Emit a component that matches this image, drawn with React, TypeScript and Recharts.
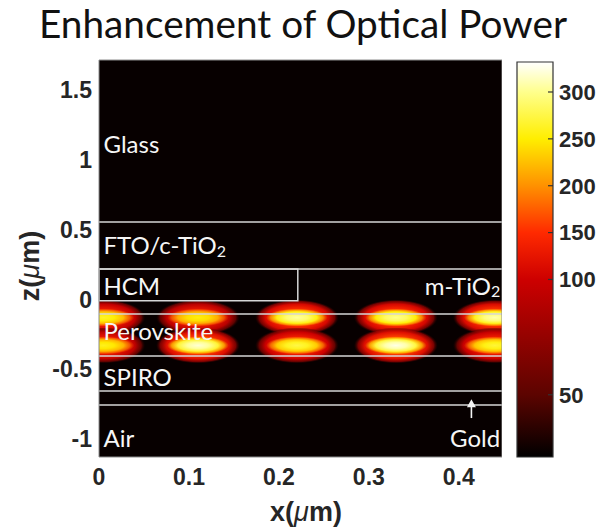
import React from 'react';
import {
  ComposedChart, BarChart, Bar, Scatter, XAxis, YAxis,
  ReferenceLine, ReferenceArea, ReferenceDot, Label,
} from 'recharts';

// axis ticks
const xTicks = [0, 0.1, 0.2, 0.3, 0.4];
const zTicks = [-1, -0.5, 0, 0.5, 1, 1.5];
const cbarTicks = [50, 100, 150, 200, 250, 300];

// intensity maxima inside the absorber: x of each lobe, z of each row, peak per lobe
const spotX = [0.005, 0.11, 0.22, 0.33, 0.44];
const rowZ = [-0.13, -0.33];
const rowPeaks = [
  [265, 255, 305, 300, 310],
  [260, 320, 275, 325, 270],
];

// interfaces between layers (z, µm)
const interfaceZ = [0.554, 0.218, -0.105, -0.405, -0.656, -0.756];
// hole-conductor block inside the m-TiO2 layer
const hcmX = [0, 0.221];
const hcmZ = [-0.01, 0.218];

// layer names
const layerNames = ['Glass', 'FTO/c-TiO', 'HCM', 'm-TiO', 'Perovskite', 'SPIRO', 'Air', 'Gold'];
const layerSub = ['', '2', '', '2', '', '', '', ''];
const layerX = [0.005, 0.005, 0.005, 0.446, 0.005, 0.005, 0.005, 0.446];
const layerZ = [1.12, 0.39, 0.103, 0.103, -0.22, -0.55, -0.99, -0.99];
const layerRight = [false, false, false, true, false, false, false, true];

// arrow pointing at the gold back contact
const goldArrow = [{ x: 0.414, y: -0.85 }, { x: 0.414, y: -0.715 }];

const X_DOMAIN = [0, 0.448];
const Z_DOMAIN = [-1.129, 1.715];
const CBAR_MIN = 23;
const CBAR_MAX = 332;

// plot rectangle of the main chart (px)
const PLOT = { left: 99, top: 60, width: 403, height: 397 };

// each lobe = soft red glow + narrow bright core; [offset, fraction of peak, opacity]
const GLOW = { rx: 42, ry: 18, stops: [[0, 0.62, 1], [0.45, 0.5, 1], [0.75, 0.36, 1], [0.9, 0.24, 0.8], [1, 0.12, 0]] };
const CORE = { rx: 31, ry: 9, stops: [[0, 1, 1], [0.35, 0.95, 1], [0.65, 0.84, 1], [0.85, 0.72, 0.7], [1, 0.62, 0]] };

// colour bar axis is stretched below 100
const cbarPos = (v: number) => (v >= 100 ? v : 100 - (100 - v) * 2.46);

const HOT: [number, number[]][] = [
  [23, [0, 0, 0]],
  [50, [92, 4, 0]],
  [100, [205, 0, 0]],
  [150, [255, 42, 0]],
  [200, [255, 145, 0]],
  [250, [255, 238, 0]],
  [300, [255, 255, 140]],
  [332, [255, 255, 255]],
];

const hot = (v: number) => {
  if (v <= HOT[0][0]) return 'rgb(0,0,0)';
  for (let i = 1; i < HOT.length; i++) {
    const [v1, c1] = HOT[i];
    const [v0, c0] = HOT[i - 1];
    if (v <= v1) {
      const t = (v - v0) / (v1 - v0);
      const c = c0.map((a, k) => Math.round(a + (c1[k] - a) * t));
      return `rgb(${c[0]},${c[1]},${c[2]})`;
    }
  }
  return 'rgb(255,255,255)';
};

const spots = rowZ.flatMap((z, r) =>
  spotX.map((x, i) => ({ key: `${r}-${i}`, x, z, peak: rowPeaks[r][i] })),
);

const cbarData = [{ name: 'cbar', span: [cbarPos(CBAR_MIN), cbarPos(CBAR_MAX)] }];

const tickFont = { fontFamily: '"Liberation Sans", Arial, sans-serif', fontWeight: 700, fontSize: 23, fill: '#262626' };
const layerFont = { fontFamily: 'Lato, sans-serif', fontSize: 24, fill: '#f6f6f6' };

const gradient = (id: string, peak: number, stops: number[][]) => (
  <radialGradient id={id}>
    {stops.map(([o, f, a]) => (
      <stop key={o} offset={o} stopColor={hot(peak * f)} stopOpacity={a} />
    ))}
  </radialGradient>
);

const SpotShape = (props: any) => {
  const { cx, cy, payload } = props;
  const glowId = `glow-${payload.key}`;
  const coreId = `core-${payload.key}`;
  return (
    <g clipPath="url(#plotClip)">
      <defs>
        {gradient(glowId, payload.peak, GLOW.stops)}
        {gradient(coreId, payload.peak, CORE.stops)}
      </defs>
      <ellipse cx={cx} cy={cy} rx={GLOW.rx} ry={GLOW.ry} fill={`url(#${glowId})`} />
      <ellipse cx={cx} cy={cy} rx={CORE.rx} ry={CORE.ry} fill={`url(#${coreId})`} />
    </g>
  );
};

const layerLabel = (i: number) => (props: any) => (
  <text
    x={props.cx}
    y={props.cy}
    dominantBaseline="central"
    textAnchor={layerRight[i] ? 'end' : 'start'}
    {...layerFont}
  >
    {layerNames[i]}
    {layerSub[i] && (
      <tspan fontSize={16} dy={5}>{layerSub[i]}</tspan>
    )}
  </text>
);

const ArrowShape = (props: any) => {
  const { x1, y1, x2, y2 } = props;
  return (
    <g>
      <line x1={x1} y1={y1} x2={x2} y2={y2 + 6} stroke="#f4f4f4" strokeWidth={1.6} />
      <polygon points={`${x2},${y2} ${x2 - 4.5},${y2 + 8} ${x2 + 4.5},${y2 + 8}`} fill="#f4f4f4" />
    </g>
  );
};

const HeatMap = () => (
  <ComposedChart
    width={PLOT.left + PLOT.width}
    height={527}
    margin={{ top: PLOT.top, right: 0, bottom: 0, left: 0 }}
  >
    <defs>
      <clipPath id="plotClip">
        <rect x={PLOT.left} y={PLOT.top} width={PLOT.width} height={PLOT.height} />
      </clipPath>
    </defs>
    <XAxis
      type="number"
      dataKey="x"
      domain={X_DOMAIN}
      ticks={xTicks}
      allowDataOverflow
      axisLine={false}
      tickLine={false}
      tickMargin={6}
      tick={tickFont}
      height={527 - PLOT.top - PLOT.height}
    >
      <Label
        content={() => (
          <text x={306} y={521} textAnchor="middle" {...tickFont} fontSize={27}>
            x(<tspan fontStyle="italic" fontWeight={400}>μ</tspan>m)
          </text>
        )}
      />
    </XAxis>
    <YAxis
      type="number"
      dataKey="z"
      domain={Z_DOMAIN}
      ticks={zTicks}
      allowDataOverflow
      axisLine={false}
      tickLine={false}
      tickMargin={1}
      tick={tickFont}
      width={PLOT.left}
    >
      <Label
        content={() => (
          <text
            x={0}
            y={0}
            transform="translate(39 266) rotate(-90)"
            textAnchor="middle"
            {...tickFont}
            fontSize={27}
          >
            z(<tspan fontStyle="italic" fontWeight={400}>μ</tspan>m)
          </text>
        )}
      />
    </YAxis>
    <ReferenceArea
      x1={X_DOMAIN[0]} x2={X_DOMAIN[1]} y1={Z_DOMAIN[0]} y2={Z_DOMAIN[1]}
      fill="#070000" fillOpacity={1} stroke="none" zIndex={-200}
    />
    <Scatter data={spots} dataKey="z" shape={SpotShape} isAnimationActive={false} />
    {interfaceZ.map((z) => (
      <ReferenceLine key={z} y={z} stroke="#d6d6d6" strokeWidth={1.5} zIndex={700} />
    ))}
    <ReferenceArea
      x1={hcmX[0]} x2={hcmX[1]} y1={hcmZ[0]} y2={hcmZ[1]}
      fill="none" stroke="#d6d6d6" strokeWidth={1.5} zIndex={700}
    />
    <ReferenceLine segment={goldArrow} shape={ArrowShape} zIndex={800} />
    {layerNames.map((name, i) => (
      <ReferenceDot key={name} x={layerX[i]} y={layerZ[i]} r={0} shape={layerLabel(i)} zIndex={800} />
    ))}
    <ReferenceArea
      x1={X_DOMAIN[0]} x2={X_DOMAIN[1]} y1={Z_DOMAIN[0]} y2={Z_DOMAIN[1]}
      fill="none" stroke="#8c8c8c" strokeWidth={1} zIndex={900}
    />
  </ComposedChart>
);

const ColorBar = () => {
  const lo = cbarPos(CBAR_MIN);
  const hi = cbarPos(CBAR_MAX);
  // stops run from the top of the bar (largest value) downwards
  const stops = [...HOT].reverse();
  return (
    <BarChart
      width={101}
      height={527}
      data={cbarData}
      margin={{ top: 62, right: 0, bottom: 70, left: 17 }}
      barCategoryGap={0}
      barGap={0}
    >
      <defs>
        <linearGradient id="hotBar" x1="0" y1="0" x2="0" y2="1">
          {stops.map(([v, c]) => (
            <stop
              key={v}
              offset={(hi - cbarPos(v)) / (hi - lo)}
              stopColor={`rgb(${c[0]},${c[1]},${c[2]})`}
            />
          ))}
        </linearGradient>
      </defs>
      <XAxis dataKey="name" hide />
      <Bar dataKey="span" fill="url(#hotBar)" stroke="#333" strokeWidth={1.2} isAnimationActive={false} />
      <YAxis
        orientation="right"
        type="number"
        domain={[lo, hi]}
        ticks={cbarTicks.map(cbarPos)}
        tickFormatter={(_v: number, i: number) => String(cbarTicks[i])}
        axisLine={false}
        tickLine={{ stroke: '#333', strokeWidth: 1.2 }}
        tickSize={-5}
        tickMargin={11}
        tick={{ ...tickFont, fontSize: 22, textAnchor: 'start' }}
        width={48}
      />
    </BarChart>
  );
};

export default function App() {
  return (
    <div style={{ position: 'absolute', left: 0, top: 0, width: 601, height: 527, background: '#fff' }}>
      <svg width={601} height={60} style={{ position: 'absolute', left: 0, top: 0 }}>
        <text
          x={303}
          y={38}
          textAnchor="middle"
          fontFamily="Lato, sans-serif"
          fontSize={38}
          textLength={528}
          lengthAdjust="spacingAndGlyphs"
          fill="#111"
        >
          Enhancement of Optical Power
        </text>
      </svg>
      <div style={{ position: 'absolute', left: 0, top: 0 }}>
        <HeatMap />
      </div>
      <div style={{ position: 'absolute', left: 500, top: 0 }}>
        <ColorBar />
      </div>
    </div>
  );
}
